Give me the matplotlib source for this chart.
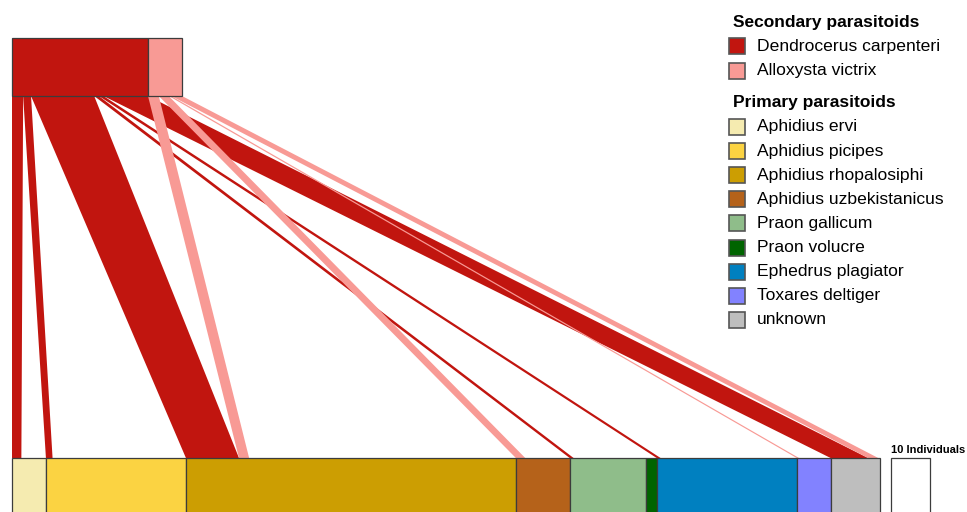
import matplotlib
matplotlib.use('agg')
import matplotlib.pyplot as plt
from matplotlib.patches import Rectangle, Polygon

plt.rcParams['font.family'] = ['Liberation Sans', 'DejaVu Sans']

# secondary parasitoids (top level)
secondary = ['Dendrocerus carpenteri', 'Alloxysta victrix']
secondary_colors = ['#c1150f', '#f89a95']
secondary_width_px = [136, 34]   # drawn width of the upper boxes

# primary parasitoids (bottom level), abundance in individuals
primary = ['Aphidius ervi', 'Aphidius picipes', 'Aphidius rhopalosiphi',
           'Aphidius uzbekistanicus', 'Praon gallicum', 'Praon volucre',
           'Ephedrus plagiator', 'Toxares deltiger', 'unknown']
primary_abun = [8.7, 35.9, 84.6, 13.8, 19.5, 2.8, 35.9, 8.7, 12.6]
primary_colors = ['#f5ebb0', '#fbd342', '#cc9e02', '#b5621a', '#8fbd8a',
                  '#006400', '#0080c0', '#8282ff', '#bebebe']

# hyperparasitised individuals, one row per secondary parasitoid
dendrocerus_links = [2.4, 1.7, 13.6, 0, 1.0, 0, 1.0, 0, 9.6]
alloxysta_links = [0, 0, 2.6, 2.4, 0, 0, 0, 0.6, 2.6]

scale_bar = 10  # individuals

px = 3.9   # pixels per individual (lower level)

fig = plt.figure(figsize=(9.67, 5.12), dpi=100)
ax = fig.add_axes([0, 0, 1, 1])
ax.set_xlim(-12 / px, (967 - 12) / px)
ax.set_ylim(512, 0)
ax.axis('off')

top_y0, top_y1 = 38, 96
low_y0, low_y1 = 458, 540

# lower boxes
low_left = []
x = 0
for abun, col in zip(primary_abun, primary_colors):
    low_left.append(x)
    ax.add_patch(Rectangle((x, low_y0), abun, low_y1 - low_y0, facecolor=col,
                           edgecolor='#3c3c3c', lw=0.9, zorder=3))
    x += abun

# upper boxes, links spread over the full box width
links = [dendrocerus_links, alloxysta_links]
top_left = []
top_scale = []
x = 0
for k, col in enumerate(secondary_colors):
    w = secondary_width_px[k] / px
    top_left.append(x)
    top_scale.append(w / sum(links[k]))
    ax.add_patch(Rectangle((x, top_y0), w, top_y1 - top_y0, facecolor=col,
                           edgecolor='#3c3c3c', lw=0.9, zorder=3))
    x += w

# links: stacked at both ends, red ones first inside each lower box
low_used = [0.0] * len(primary)
for k, row in enumerate(links):
    tx = top_left[k]
    for j, v in enumerate(row):
        if v == 0:
            continue
        tw = v * top_scale[k]
        bx = low_left[j] + low_used[j]
        poly = Polygon([(tx, top_y1), (tx + tw, top_y1), (bx + v, low_y0), (bx, low_y0)],
                       closed=True, facecolor=secondary_colors[k], edgecolor='none',
                       zorder=1 + k)
        ax.add_patch(poly)
        tx += tw
        low_used[j] += v

# scale box
sx = (891 - 12) / px
ax.add_patch(Rectangle((sx, low_y0), scale_bar, low_y1 - low_y0, facecolor='white',
                       edgecolor='#3c3c3c', lw=0.9, zorder=3))
ax.text(sx, low_y0 - 3, '%d Individuals' % scale_bar, fontsize=8,
        fontweight='bold', ha='left', va='bottom')

# legend
lx_box = (729 - 12) / px
lx_txt = (757 - 12) / px
bw = 16 / px


def legend_row(y, label, col):
    ax.add_patch(Rectangle((lx_box, y - 8), bw, 16, facecolor=col,
                           edgecolor='#555555', lw=1.2, zorder=3))
    ax.text(lx_txt, y, label, fontsize=12.6, va='center', ha='left')


ax.text((733 - 12) / px, 22, 'Secondary parasitoids', fontsize=12.5,
        fontweight='bold', va='center', ha='left')
for i, name in enumerate(secondary):
    legend_row(46 + 24.5 * i, name, secondary_colors[i])
ax.text((733 - 12) / px, 103, 'Primary parasitoids', fontsize=12.5,
        fontweight='bold', va='center', ha='left')
for i, name in enumerate(primary):
    legend_row(127 + 24.1 * i, name, primary_colors[i])

plt.savefig('out.png', dpi=100)
plt.close()
